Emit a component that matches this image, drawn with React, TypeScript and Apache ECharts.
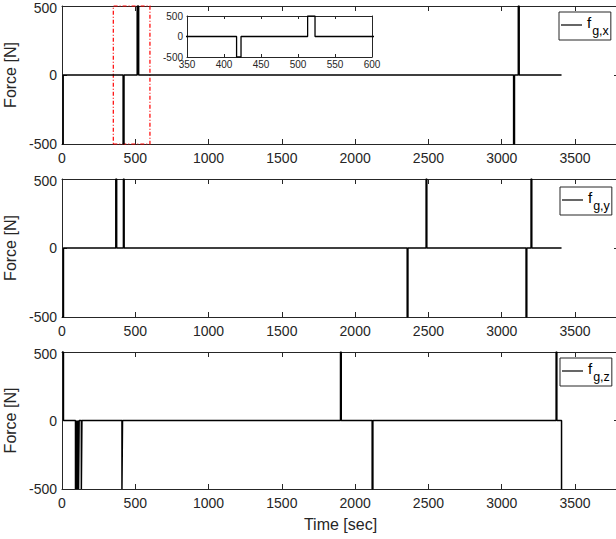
import React, { useEffect, useRef } from "react";
import * as echarts from "echarts";

// Thruster force histories: zero-order-hold samples (time [sec], force [N])
const fxTime = [0, 8, 417, 423, 513, 523, 3081, 3087, 3113, 3119, 3408];
const fxForce = [-500, 0, -500, 0, 500, 0, -500, 0, 500, 0, 0];

const fyTime = [0, 10, 367, 373, 419, 424, 2355, 2360, 2484, 2489, 3166, 3171, 3200, 3205, 3408];
const fyForce = [-500, 0, 500, 0, 500, 0, -500, 0, 500, 0, -500, 0, 500, 0, 0];

const fzTime = [0, 10, 92, 96, 99, 103, 106, 110, 113, 117, 132, 136, 409, 413, 1900, 1905, 2116, 2121, 3371, 3376, 3408];
const fzForce = [500, 0, -500, 0, -500, 0, -500, 0, -500, 0, -500, 0, -500, 0, 500, 0, -500, 0, 500, 0, -500];

const channelNames = ["f_g,x", "f_g,y", "f_g,z"];
const channelSubscripts = ["g,x", "g,y", "g,z"];

const timeRange = [0, 3800];
const timeStep = 500;
const forceRange = [-500, 500];
const forceStep = 500;
const zoomWindow = [350, 600];
const zoomStep = 50;

const FONT = "'Liberation Sans', Arial, Helvetica, sans-serif";
const AX = "#262626";

const pairs = (t: number[], f: number[]) => t.map((v, i) => [v, f[i]]);

function xAxes(grid: number, min: number, max: number, step: number, small: boolean, name: string) {
  const line = { show: true, onZero: false, lineStyle: { color: AX, width: 1 } };
  const tick = { show: true, inside: true, length: small ? 3 : 5, lineStyle: { color: AX, width: 1 } };
  return [
    {
      type: "value", gridIndex: grid, min, max, interval: step, position: "bottom",
      axisLine: line, axisTick: tick, splitLine: { show: false },
      axisLabel: {
        show: true, color: AX, fontFamily: FONT, fontSize: small ? 10 : 14, margin: small ? 2 : 7,
        formatter: (v: number) => (Math.round(v - min) % step === 0 ? String(v) : ""),
      },
      name, nameLocation: "middle", nameGap: 27,
      nameTextStyle: { color: AX, fontFamily: FONT, fontSize: 16 },
    },
    {
      type: "value", gridIndex: grid, min, max, interval: step, position: "top",
      axisLine: line, axisTick: tick, splitLine: { show: false }, axisLabel: { show: false },
    },
  ];
}

function yAxes(grid: number, small: boolean, name: string) {
  const line = { show: true, onZero: false, lineStyle: { color: AX, width: 1 } };
  const tick = { show: true, inside: true, length: small ? 3 : 5, lineStyle: { color: AX, width: 1 } };
  return [
    {
      type: "value", gridIndex: grid, min: forceRange[0], max: forceRange[1], interval: forceStep,
      position: "left", axisLine: line, axisTick: tick, splitLine: { show: false },
      axisLabel: {
        show: true, color: AX, fontFamily: FONT, fontSize: small ? 10 : 14, margin: small ? 4 : 5,
        // the top label sits a little below the upper edge of the box
        formatter: (v: number) => (v === forceRange[1] && !small ? `{top|${v}}` : String(v)),
        rich: { top: { fontFamily: FONT, fontSize: 14, color: AX, padding: [4, 0, 0, 0] } },
      },
      name, nameLocation: "middle", nameGap: 39,
      nameTextStyle: { color: AX, fontFamily: FONT, fontSize: 16 },
    },
    {
      type: "value", gridIndex: grid, min: forceRange[0], max: forceRange[1], interval: forceStep,
      position: "right", axisLine: line, axisTick: tick, splitLine: { show: false }, axisLabel: { show: false },
    },
  ];
}

export default function App() {
  const ref = useRef<HTMLDivElement>(null);

  useEffect(() => {
    if (!ref.current) return;
    const chart = echarts.init(ref.current, undefined, { renderer: "svg" });

    const histories = [pairs(fxTime, fxForce), pairs(fyTime, fyForce), pairs(fzTime, fzForce)];
    const legendBoxes = [
      { left: 559, top: 12 },
      { left: 560, top: 187 },
      { left: 560, top: 358 },
    ];

    const gridBase = { outerBoundsMode: "none", containLabel: false };

    const option: any = {
      animation: false,
      backgroundColor: "#fff",
      grid: [
        { ...gridBase, left: 62, top: 6, width: 557, height: 138 },
        { ...gridBase, left: 62, top: 179, width: 557, height: 138 },
        { ...gridBase, left: 62, top: 352, width: 557, height: 137 },
        { ...gridBase, left: 187, top: 16, width: 185, height: 41, show: true, backgroundColor: "#fff", borderWidth: 0 },
      ],
      xAxis: [
        ...xAxes(0, timeRange[0], timeRange[1], timeStep, false, ""),
        ...xAxes(1, timeRange[0], timeRange[1], timeStep, false, ""),
        ...xAxes(2, timeRange[0], timeRange[1], timeStep, false, "Time [sec]"),
        ...xAxes(3, zoomWindow[0], zoomWindow[1], zoomStep, true, ""),
      ],
      yAxis: [
        ...yAxes(0, false, "Force [N]"),
        ...yAxes(1, false, "Force [N]"),
        ...yAxes(2, false, "Force [N]"),
        ...yAxes(3, true, ""),
      ],
      legend: channelNames.map((n, i) => ({
        data: [n],
        left: legendBoxes[i].left,
        top: legendBoxes[i].top,
        padding: [3, 2, 3, 2],
        icon: "rect",
        itemWidth: 21,
        itemHeight: 1.2,
        itemGap: 0,
        itemStyle: { color: "#000", borderWidth: 0 },
        borderColor: AX,
        borderWidth: 1,
        borderRadius: 0,
        backgroundColor: "#fff",
        selectedMode: false,
        formatter: () => `{f|f}{s|${channelSubscripts[i]}}`,
        textStyle: {
          rich: {
            f: { fontFamily: FONT, fontSize: 15, color: "#000", padding: [0, 1, 5, 0] },
            s: { fontFamily: FONT, fontSize: 12.5, color: "#000", padding: [11, 0, 0, 0] },
          },
        },
      })),
      series: [
        ...histories.map((d, i) => ({
          type: "line",
          name: channelNames[i],
          xAxisIndex: i * 2,
          yAxisIndex: i * 2,
          data: d,
          step: "end",
          symbol: "none",
          clip: true,
          color: "#000",
          lineStyle: { color: "#000", width: 1.5 },
          ...(i === 0
            ? {
                markArea: {
                  silent: true,
                  label: { show: false },
                  itemStyle: {
                    color: "rgba(0,0,0,0)",
                    borderColor: "#ff0000",
                    borderWidth: 1.2,
                    borderType: [4, 2, 1, 2],
                  },
                  data: [[
                    { xAxis: zoomWindow[0], yAxis: forceRange[0] },
                    { xAxis: zoomWindow[1], yAxis: forceRange[1] },
                  ]],
                },
              }
            : {}),
        })),
        {
          type: "line",
          name: "zoom",
          xAxisIndex: 6,
          yAxisIndex: 6,
          data: histories[0],
          step: "end",
          symbol: "none",
          clip: true,
          color: "#000",
          lineStyle: { color: "#000", width: 1.3 },
        },
      ],
    };

    chart.setOption(option);
    return () => chart.dispose();
  }, []);

  return (
    <div
      ref={ref}
      style={{ position: "absolute", left: 0, top: 0, width: 616, height: 539, overflow: "hidden" }}
    />
  );
}
